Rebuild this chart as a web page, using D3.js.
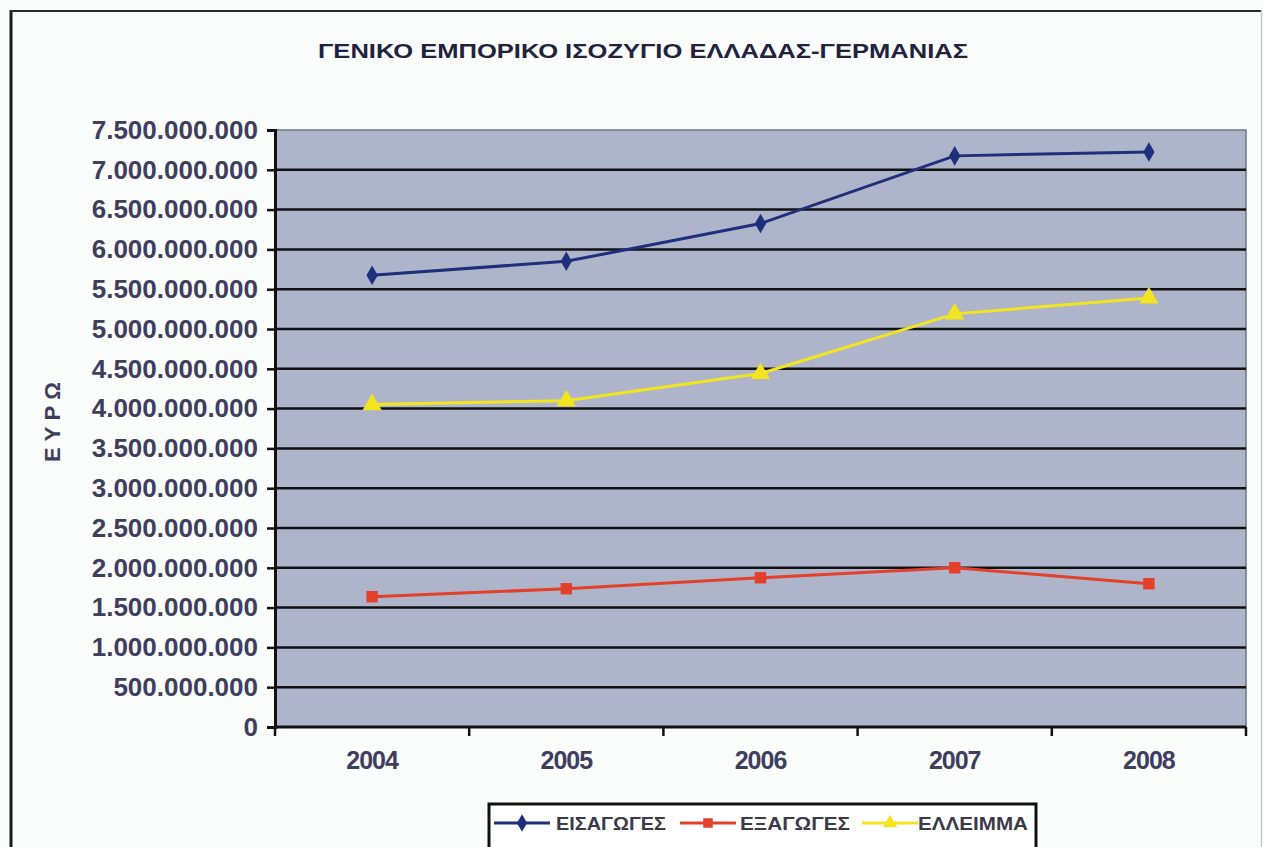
<!DOCTYPE html>
<html>
<head>
<meta charset="utf-8">
<script src="https://cdn.jsdelivr.net/npm/d3@7"></script>
<style>
  body { margin: 0; background: #fbfcfc; }
  text { font-family: "Liberation Sans", Arial, sans-serif; }
</style>
</head>
<body>
<svg id="chart" width="1263" height="847"></svg>
<script>
// data (euro)
const years = ["2004", "2005", "2006", "2007", "2008"];
const imports = [5675000000, 5850000000, 6325000000, 7175000000, 7225000000];
const exports = [1637000000, 1737000000, 1875000000, 2000000000, 1800000000];
const deficit = [4050000000, 4100000000, 4440000000, 5190000000, 5390000000];
const yTicks = d3.range(0, 7500000001, 500000000);

const seriesNames = ["ΕΙΣΑΓΩΓΕΣ", "ΕΞΑΓΩΓΕΣ", "ΕΛΛΕΙΜΜΑ"];
const seriesColors = ["#1e2f7c", "#e2402a", "#f2e41e"];
const seriesShapes = [d3.symbolDiamond, d3.symbolSquare, d3.symbolTriangle];

let svg = d3.select("#chart");

let margin = { left: 275, right: 1246, top: 130, bottom: 727 };

// outer frame
svg.append("line").attr("x1", 11).attr("x2", 11).attr("y1", 10).attr("y2", 847)
   .attr("stroke", "#1a1a1a").attr("stroke-width", 3);
svg.append("line").attr("x1", 10).attr("x2", 1262).attr("y1", 11).attr("y2", 11)
   .attr("stroke", "#2a2a2a").attr("stroke-width", 2);
svg.append("line").attr("x1", 1261.5).attr("x2", 1261.5).attr("y1", 10).attr("y2", 847)
   .attr("stroke", "#c8c8c8").attr("stroke-width", 1.5);

const x = d3.scaleBand()
    .domain(years)
    .range([margin.left, margin.right]);

const y = d3.scaleLinear()
    .domain([0, 7500000000])
    .range([margin.bottom, margin.top]);

const locale = d3.formatLocale({ decimal: ",", thousands: ".", grouping: [3], currency: ["", "€"] });
const fmt = locale.format(",");

// plot area
svg.append("rect")
   .attr("x", margin.left).attr("y", margin.top)
   .attr("width", margin.right - margin.left).attr("height", margin.bottom - margin.top)
   .attr("fill", "#aeb4c9")
   .attr("stroke", "#6e7488").attr("stroke-width", 1.5);

// gridlines
svg.append("g")
   .selectAll("line")
   .data(yTicks.filter(function(d) { return d > 0 && d < 7500000000; }))
   .enter().append("line")
   .attr("x1", margin.left).attr("x2", margin.right)
   .attr("y1", function(d) { return y(d); })
   .attr("y2", function(d) { return y(d); })
   .attr("stroke", "#111111")
   .attr("stroke-width", 2.5);

// y axis
let yAxis = svg.append("g")
   .attr("transform", `translate(${margin.left},0)`)
   .call(d3.axisLeft(y).tickValues(yTicks).tickFormat(fmt).tickSize(8).tickPadding(9));
yAxis.select(".domain").attr("stroke", "#111").attr("stroke-width", 3);
yAxis.selectAll(".tick line").attr("stroke", "#111").attr("stroke-width", 2.5);
yAxis.selectAll(".tick text")
   .attr("fill", "#3e3e5e")
   .style("font-size", "26px")
   .style("font-weight", "bold");

// x axis with ticks between categories
let xAxis = svg.append("g")
   .attr("transform", `translate(0,${margin.bottom})`);
xAxis.append("line")
   .attr("x1", margin.left).attr("x2", margin.right)
   .attr("stroke", "#111").attr("stroke-width", 3);
xAxis.selectAll(".bound")
   .data(years.concat(["end"]))
   .enter().append("line")
   .attr("class", "bound")
   .attr("x1", function(d, i) { return i < years.length ? x(d) : x(years[years.length - 1]) + x.bandwidth(); })
   .attr("x2", function(d, i) { return i < years.length ? x(d) : x(years[years.length - 1]) + x.bandwidth(); })
   .attr("y1", 0).attr("y2", 9)
   .attr("stroke", "#111").attr("stroke-width", 2.5);
xAxis.selectAll(".lbl")
   .data(years)
   .enter().append("text")
   .attr("class", "lbl")
   .attr("x", function(d) { return x(d) + x.bandwidth() / 2; })
   .attr("y", 42)
   .attr("text-anchor", "middle")
   .attr("fill", "#3e3e5e")
   .style("font-size", "25px")
   .style("font-weight", "bold")
   .style("letter-spacing", "-1px")
   .text(function(d) { return d; });

// title
svg.append("text")
   .attr("x", 643).attr("y", 58)
   .attr("text-anchor", "middle")
   .attr("textLength", 650).attr("lengthAdjust", "spacingAndGlyphs")
   .attr("fill", "#22223e")
   .style("font-size", "20px")
   .style("font-weight", "bold")
   .text("ΓΕΝΙΚΟ ΕΜΠΟΡΙΚΟ ΙΣΟΖΥΓΙΟ ΕΛΛΑΔΑΣ-ΓΕΡΜΑΝΙΑΣ");

// y axis title
svg.append("text")
   .attr("transform", "translate(60,422) rotate(-90)")
   .attr("text-anchor", "middle")
   .attr("textLength", 80).attr("lengthAdjust", "spacing")
   .attr("fill", "#3e3e5e")
   .style("font-size", "22px")
   .style("font-weight", "bold")
   .text("ΕΥΡΩ");

// series
let seriesData = [imports, exports, deficit];
let line = d3.line()
   .x(function(d, i) { return x(years[i]) + x.bandwidth() / 2; })
   .y(function(d) { return y(d); });

seriesData.forEach(function(values, s) {
    svg.append("path")
       .datum(values)
       .attr("d", line)
       .attr("fill", "none")
       .attr("stroke", seriesColors[s])
       .attr("stroke-width", 3);

    svg.append("g")
       .selectAll("path")
       .data(values)
       .enter().append("path")
       .attr("transform", function(d, i) {
           return "translate(" + (x(years[i]) + x.bandwidth() / 2) + "," + y(d) + ")";
       })
       .attr("d", d3.symbol().type(seriesShapes[s]).size([110, 130, 160][s]))
       .attr("fill", seriesColors[s]);
});

// legend
let legend = svg.append("g");
legend.append("rect")
   .attr("x", 489).attr("y", 804)
   .attr("width", 547).attr("height", 60)
   .attr("fill", "#ffffff")
   .attr("stroke", "#111").attr("stroke-width", 3);

let legendLineX = [494, 680, 862];
let legendTextX = [556, 740, 918];

seriesNames.forEach(function(name, s) {
    let g = legend.append("g");
    g.append("line")
       .attr("x1", legendLineX[s]).attr("x2", legendLineX[s] + 56)
       .attr("y1", 823).attr("y2", 823)
       .attr("stroke", seriesColors[s]).attr("stroke-width", 3);
    g.append("path")
       .attr("transform", "translate(" + (legendLineX[s] + 28) + ",823)")
       .attr("d", d3.symbol().type(seriesShapes[s]).size(90))
       .attr("fill", seriesColors[s]);
    g.append("text")
       .attr("x", legendTextX[s]).attr("y", 830)
       .attr("textLength", 110).attr("lengthAdjust", "spacingAndGlyphs")
       .attr("fill", "#3a3a4a")
       .style("font-size", "18px")
       .style("font-weight", "bold")
       .text(name);
});
</script>
</body>
</html>
